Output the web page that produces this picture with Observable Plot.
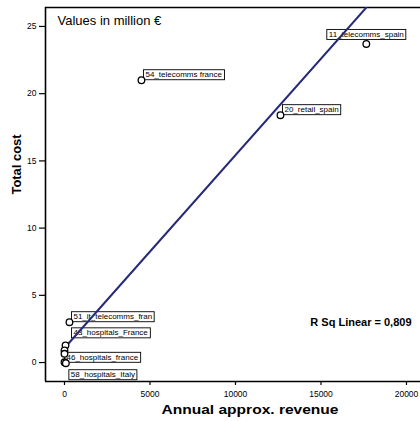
<!DOCTYPE html>
<html><head><meta charset="utf-8">
<script src="https://cdn.jsdelivr.net/npm/d3@7"></script>
<script src="https://cdn.jsdelivr.net/npm/@observablehq/plot@0.6"></script>
<style>body{margin:0;background:#fff} svg{display:block}</style>
</head><body><div id="chart"></div>
<script>
// ---- data ----
const names = ["54_telecomms france","11_telecomms_spain","20_retail_spain","51_it_telecomms_fran","43_hospitals_France","","46_hospitals_france","","58_hospitals_Italy"];
const revenue = [4500, 17650, 12630, 290, 60, 0, 0, 0, 80];
const totalCost = [21.0, 23.7, 18.4, 3.0, 1.28, 0.9, 0.65, 0.02, -0.05];
const xTicks = [0, 5000, 10000, 15000, 20000];
const yTicks = [0, 5, 10, 15, 20, 25];
const fitSlope = 0.001435, fitIntercept = 1.08;
const rSqText = "R Sq Linear = 0,809";
const noteText = "Values in million €";
const xTitle = "Annual approx. revenue";
const yTitle = "Total cost";

const xDomain = [-1111, 20819];
const yDomain = [-1.41, 26.41];

const points = names.map((n, i) => ({name: n, x: revenue[i], y: totalCost[i]}));
const fitLine = [d3.min(revenue), d3.max(revenue)].map(x => ({x, y: fitIntercept + fitSlope * x}));
const pick = list => points.filter(p => list.includes(p.name));

const lblStyle = {x: "x", y: "y", text: "name", fontSize: 8, className: "lbl", fill: "#000"};

const plot = Plot.plot({
  width: 420, height: 421,
  marginLeft: 45, marginRight: 0, marginTop: 7, marginBottom: 40,
  style: {fontFamily: "'Liberation Sans', Arial, sans-serif", background: "#fff", overflow: "visible"},
  x: {domain: xDomain},
  y: {domain: yDomain},
  marks: [
    Plot.ruleY([yDomain[0]], {stroke: "#000", strokeWidth: 1.6}),
    Plot.ruleY([yDomain[1]], {stroke: "#000", strokeWidth: 1.6}),
    Plot.ruleX([xDomain[0]], {stroke: "#000", strokeWidth: 1.6}),
    Plot.axisX(xTicks, {tickSize: 4, tickPadding: 5, tickFormat: "d", fontSize: 8.5, label: null, stroke: "#000", strokeWidth: 1.2}),
    Plot.axisY(yTicks, {tickSize: 6, tickPadding: 3, tickFormat: "d", fontSize: 8.5, label: null, stroke: "#000", strokeWidth: 1.2}),
    // point labels
    Plot.text(pick(["54_telecomms france","20_retail_spain","51_it_telecomms_fran"]), {...lblStyle, textAnchor: "start", lineAnchor: "bottom", dx: 4, dy: -3}),
    Plot.text(pick(["11_telecomms_spain"]), {...lblStyle, textAnchor: "middle", lineAnchor: "bottom", dx: 0, dy: -7}),
    Plot.text(pick(["43_hospitals_France"]), {...lblStyle, textAnchor: "start", lineAnchor: "bottom", dx: 8, dy: -10}),
    Plot.text(pick(["46_hospitals_france"]), {...lblStyle, textAnchor: "start", lineAnchor: "bottom", dx: 2, dy: 6}),
    Plot.text(pick(["58_hospitals_Italy"]), {...lblStyle, textAnchor: "start", lineAnchor: "bottom", dx: 5, dy: 14}),
    // fit line
    Plot.line(fitLine, {x: "x", y: "y", stroke: "#262a78", strokeWidth: 2, clip: true}),
    // points
    Plot.dot(points, {x: "x", y: "y", r: 3.3, stroke: "#000", fill: "#fff", strokeWidth: 1.3}),
    // annotations
    Plot.text([noteText], {frameAnchor: "top-left", dx: 12, dy: 13, textAnchor: "start", lineAnchor: "middle", fontSize: 13, fill: "#000"}),
    Plot.text([rSqText], {frameAnchor: "bottom-right", dx: -9, dy: -59, textAnchor: "end", lineAnchor: "middle", fontSize: 11, fontWeight: "bold", fill: "#000"}),
    Plot.text([xTitle], {frameAnchor: "bottom", dx: 17, dy: 29, lineAnchor: "middle", fontSize: 12, fontWeight: "bold", fill: "#000", className: "xtitle"}),
    Plot.text([yTitle], {frameAnchor: "left", dx: -28, rotate: -90, lineAnchor: "middle", fontSize: 12, fontWeight: "bold", fill: "#000", className: "ytitle"})
  ]
});
document.getElementById("chart").append(plot);

// stretch axis titles to the reference's wide lettering
const xt = plot.querySelector("g.xtitle text");
if (xt) { xt.setAttribute("textLength", 177); xt.setAttribute("lengthAdjust", "spacingAndGlyphs"); }
const yt = plot.querySelector("g.ytitle text");
if (yt) { yt.setAttribute("textLength", 60); yt.setAttribute("lengthAdjust", "spacingAndGlyphs"); }

// white boxes with black border behind point labels
const ns = "http://www.w3.org/2000/svg";
plot.querySelectorAll("g.lbl text").forEach(t => {
  const b = t.getBBox();
  const r = document.createElementNS(ns, "rect");
  r.setAttribute("x", b.x - 2);
  r.setAttribute("y", b.y - 0.5);
  r.setAttribute("width", b.width + 4);
  r.setAttribute("height", b.height + 1);
  r.setAttribute("fill", "#fff");
  r.setAttribute("stroke", "#000");
  r.setAttribute("stroke-width", "0.9");
  const tr = t.getAttribute("transform");
  if (tr) r.setAttribute("transform", tr);
  t.parentNode.insertBefore(r, t);
});
</script>
</body></html>
